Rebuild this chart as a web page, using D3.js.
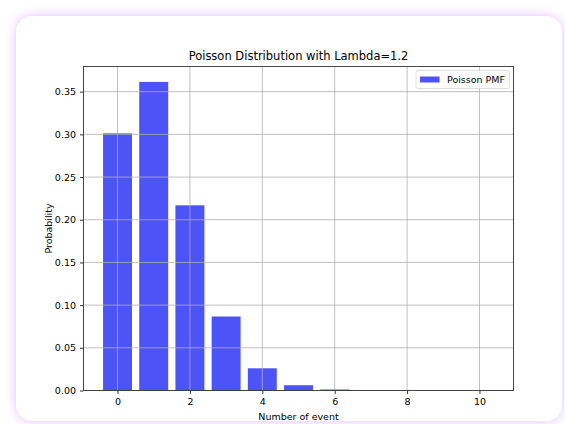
<!DOCTYPE html>
<html lang="en">
<head>
	<meta charset="UTF-8">
	<title>Poisson PMF</title>
	<style>
		body { margin: 0; background: #fff; }
		svg text { font-family: "DejaVu Sans", sans-serif; fill: #000; }
		.grid line { stroke: #b0b0b0; stroke-width: 0.8; }
		.axis path, .axis line { stroke: #333; }
	</style>
	<script src="https://cdn.jsdelivr.net/npm/d3@7"></script>
</head>
<body>
<script>
	var events = [0, 1, 2, 3, 4, 5, 6, 7, 8, 9, 10];
	var pmf = [0.3012, 0.3614, 0.2169, 0.0867, 0.0260, 0.0062, 0.0012, 0.0002, 0.00003, 0.000004, 0.0000005];
	var xTicks = [0, 2, 4, 6, 8, 10];
	var yTicks = [0, 0.05, 0.10, 0.15, 0.20, 0.25, 0.30, 0.35];

	var W = 565, H = 424;
	var margin = {top: 66.5, left: 83.5, right: 51.5, bottom: 33.5},
		width = W - margin.left - margin.right,
		height = H - margin.top - margin.bottom;

	var svg = d3.select("body").append("svg")
		.attr("width", W)
		.attr("height", H);

	// glow + card
	var defs = svg.append("defs");
	var f = defs.append("filter").attr("id", "glow")
		.attr("x", "-10%").attr("y", "-10%").attr("width", "120%").attr("height", "120%");
	f.append("feDropShadow").attr("dx", 0).attr("dy", 0).attr("stdDeviation", 6)
		.attr("flood-color", "#d9a8ff").attr("flood-opacity", 0.75);

	svg.append("rect")
		.attr("x", 16).attr("y", 16)
		.attr("width", 546).attr("height", 405)
		.attr("rx", 16)
		.attr("fill", "#fff")
		.attr("filter", "url(#glow)");

	var x = d3.scaleLinear().domain([-0.94, 10.94]).range([0, width]);
	var y = d3.scaleLinear().domain([0, 0.3795]).range([height, 0]);

	var g = svg.append("g")
		.attr("transform", "translate(" + margin.left + "," + margin.top + ")");

	g.selectAll(".bar")
		.data(events)
		.enter().append("rect")
		.attr("class", "bar")
		.attr("x", function(d) { return x(d - 0.4); })
		.attr("width", x(0.4) - x(-0.4))
		.attr("y", function(d, i) { return y(pmf[i]); })
		.attr("height", function(d, i) { return height - y(pmf[i]); })
		.attr("fill", "rgb(77,84,247)");

	// grid on top of bars
	var grid = g.append("g").attr("class", "grid");
	grid.selectAll(".gx").data(xTicks).enter().append("line")
		.attr("x1", function(d) { return x(d); }).attr("x2", function(d) { return x(d); })
		.attr("y1", 0).attr("y2", height);
	grid.selectAll(".gy").data(yTicks).enter().append("line")
		.attr("y1", function(d) { return y(d); }).attr("y2", function(d) { return y(d); })
		.attr("x1", 0).attr("x2", width);

	g.append("g")
		.attr("class", "axis")
		.attr("transform", "translate(0," + height + ")")
		.call(d3.axisBottom(x).tickValues(xTicks).tickSize(3.5).tickPadding(4).tickFormat(d3.format("d")))
		.call(function(s) { s.select(".domain").remove(); s.selectAll("text").style("font-size", "9.5px"); });

	g.append("g")
		.attr("class", "axis")
		.call(d3.axisLeft(y).tickValues(yTicks).tickSize(3.5).tickPadding(4).tickFormat(d3.format(".2f")))
		.call(function(s) { s.select(".domain").remove(); s.selectAll("text").style("font-size", "9.5px"); });

	g.append("rect")
		.attr("width", width).attr("height", height)
		.attr("fill", "none").attr("stroke", "#333").attr("stroke-width", 0.9);

	g.append("text")
		.attr("x", width / 2).attr("y", -7)
		.attr("text-anchor", "middle")
		.style("font-size", "11.5px")
		.text("Poisson Distribution with Lambda=1.2");

	g.append("text")
		.attr("x", width / 2).attr("y", height + 29)
		.attr("text-anchor", "middle")
		.style("font-size", "9.5px")
		.text("Number of event");

	g.append("text")
		.attr("transform", "translate(-32," + (height / 2) + ") rotate(-90)")
		.attr("text-anchor", "middle")
		.style("font-size", "9.5px")
		.text("Probability");

	// legend
	var lg = g.append("g").attr("transform", "translate(" + (width - 97.5) + ",4)");
	lg.append("rect")
		.attr("width", 93.5).attr("height", 18).attr("rx", 2)
		.attr("fill", "#fff").attr("fill-opacity", 0.8)
		.attr("stroke", "#d6d6d6").attr("stroke-width", 0.8);
	lg.append("rect")
		.attr("x", 4).attr("y", 6).attr("width", 19.5).attr("height", 6)
		.attr("fill", "rgb(77,84,247)");
	lg.append("text")
		.attr("x", 31).attr("y", 12.5)
		.style("font-size", "9.5px")
		.text("Poisson PMF");
</script>
</body>
</html>
